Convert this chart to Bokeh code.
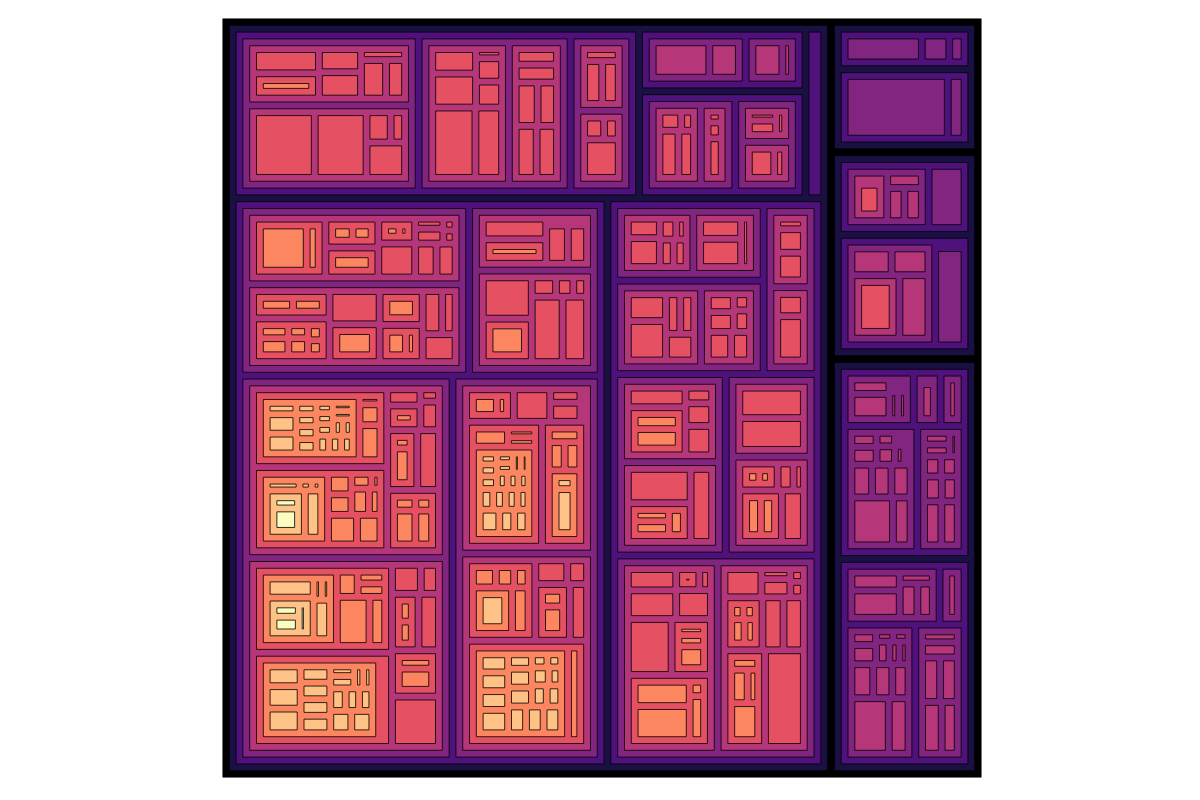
import math
from bokeh.plotting import figure
from bokeh.models import Range1d, ColumnDataSource
from bokeh.palettes import Magma9
from bokeh.embed import file_html
from bokeh.resources import INLINE

# ---- hierarchy: nested lists = groups, numbers = leaf sizes (area units) ----
# a tuple (size, [children]) gives a group an explicit size
A1 = [
    [[1630, [632], 995, 1134, 494, 988, 749], [4138, 3478, 748, 445, 1393]],
    [[1094, 1520, 3103, 245, 623, 692, 1917], [657, 754, 973, 859, 1115, 1080]],
    [[424, 798, 726], [447, 326, 1366]],
]
A2 = [[2206, 1149], [1173, 375]]
A3 = [(7956, [[396, 234, 860, 704], [144, 214, 532]]),
      (5651, [(1774, [229, 376, 200]), (2053, [718, 308])])]
A4 = 3166

BL1 = [
    [[2176, 556], [321, 298], [668], [166, 105], 1281, 288, 428, 148, 164, 741, 660],
    [(2136, [472, 424]), (3411, [384, 265, 504, 348, 230, 230]), 1700, (1935, [929]), (1492, [633]),
     (1634, [501, 254]), 589, 860, 938],
]
BL2 = [
    [1342, [563], 284, 847, 755],
    [2065, [1090], 481, 342, 272, 2070, 1637],
]
BL3 = [
    [
        [[347, 234, 168, 168, 168, 605, 248, 184, 269, 196, 168, 173, 593, 296, 221, 229, 211], 177, 447, 752],
        [[333, 124, 96, [286, 574], 799], 491, 303, 136, 491, 470, 308, 879, 711],
        549, 233, [226], 540, [195, 590], 1320, [304, 238, 744, 583],
    ],
    [
        [[926, 180, 180, [324, 413, 235], 667], 536, 332, 379, 1642, 789],
        [[690, 782, 860, 505, 496, 505, 535, 237, 308, 205, 205, 357, 303, 310, 483, 483], 500],
        852, 536, [280, 293], 1176, [726, 396], 2411,
    ],
]
BL4 = [
    [[468, 198], 1210, 415, 585, 222,
     [648, 243, 262, [195, 212, 225, 158, 168, 160, 160, 179, 179, 152, 288, 267, 252, 231, 473, 360, 343]],
     [452, 459, 440, [222, 817]]],
    [[479, 380, 301, [872], 787], 775, 481, [337, 594], 996,
     [[527, 353, 208, 186, 548, 462, 311, 232, 548, 462, 321, 315, 683, 486, 486, 494], 1160]],
]
BR = [
    [[618, 918, 213, 352, 379, 341], [820, 1148, 429]],
    [[1015, 1493, 562, 550, 748], [460, 261, 512, 347, 660, 537]],
    [[278, 621, 729], [586, 1169]],
    [[1121, [658, 851], 413, 600, 777], [2137, [381, 472, 371], 1562]],
    [[1948, 2038], [[174, 152], 275, 427, [555, 531], 1123]],
    [[1022, [70], 241, 1378, 996, 2433, [235, 286, 557], [1329, 1860, 205, 629]],
     [1036, 288, 523, 172, 206, [183, 183, 320, 270], 1107, 1070, [337, 544, 352, 989], 3727]],
]
# sizes of the second-level groups of the large block
A1_SIZE = 68900
A2_SIZE = 10420
A3_SIZE = 17800
BL_SIZE = 213200
BR_SIZE = 123300
B = [[2080, 740, 410], [6458, 1047]]
C = [[[[658, 117], 530, 575, 575], 2230], [[1075, 985, [1715], 1840], 2850, 190]]
D = [
    [[548, 959, 104, 121, 237, 237], [464, 62], [409],
     [336, 356, 448, 675, 635, 623, 1990, 842, 116, 102, 102, 248, 177],
     [301, 332, 191, 345, 298, 440, 397, 718, 760]],
    [[864, 1320, 362, 606, 526], [512],
     [337, 473, 205, 227, 301, 155, 175, 741, 650, 549, 2070, 1096],
     [388, 803, 539, 828, 782, 1013]],
]
A = [(A1_SIZE, A1), (A2_SIZE, A2), (A3_SIZE, A3), A4,
     (BL_SIZE, [BL1, BL2, BL3, BL4]), (BR_SIZE, BR)]
TREE = [A, B, C, D]

PAD = 6.8
SIZE = 759.0
PHI = (1 + 5 ** 0.5) / 2


class Node:
    def __init__(self, item, depth):
        self.depth = depth
        self.asp = 1.0
        self.rect = None
        self.w = 0.0
        self.fixed = None
        if isinstance(item, tuple):
            self.fixed = float(item[0])
            item = item[1]
        if isinstance(item, list):
            self.kids = [Node(c, depth + 1) for c in item]
            self.val = None
        else:
            self.kids = None
            self.val = float(item)


def weigh(n):
    if n.kids is None:
        n.w = n.val
        return n.w
    s = sum(weigh(c) for c in n.kids)
    if n.fixed is not None:
        n.w = n.fixed
        return n.w
    r = n.asp
    n.w = (math.sqrt(s * r) + 2 * PAD) * (math.sqrt(s / r) + 2 * PAD)
    return n.w


def squarify(nodes, x0, y0, x1, y1):
    out = []
    value = sum(n.w for n in nodes)
    i0 = i1 = 0
    n = len(nodes)
    while i0 < n:
        dx = max(x1 - x0, 1e-6)
        dy = max(y1 - y0, 1e-6)
        sumv = nodes[i1].w
        i1 += 1
        minv = maxv = sumv
        alpha = max(dy / dx, dx / dy) / (value * PHI)
        beta = sumv * sumv * alpha
        min_ratio = max(maxv / beta, beta / minv)
        while i1 < n:
            nv = nodes[i1].w
            sumv += nv
            minv = min(minv, nv)
            maxv = max(maxv, nv)
            beta = sumv * sumv * alpha
            new_ratio = max(maxv / beta, beta / minv)
            if new_ratio > min_ratio:
                sumv -= nv
                break
            min_ratio = new_ratio
            i1 += 1
        row = nodes[i0:i1]
        if dx < dy:
            ny = y0 + dy * sumv / value
            x = x0
            for nd in row:
                w = dx * nd.w / sumv
                out.append((nd, (x, y0, x + w, ny)))
                x += w
            y0 = ny
        else:
            nx = x0 + dx * sumv / value
            y = y0
            for nd in row:
                h = dy * nd.w / sumv
                out.append((nd, (x0, y, nx, y + h)))
                y += h
            x0 = nx
        value -= sumv
        i0 = i1
    return out


def place(n, x0, y0, x1, y1):
    n.rect = (x0, y0, x1, y1)
    if not n.kids:
        return
    h = PAD / 2
    kids = sorted(n.kids, key=lambda c: -c.w)
    for c, (a0, b0, a1, b1) in squarify(kids, x0 + h, y0 + h, x1 - h, y1 - h):
        c.asp = max(a1 - a0 - 2 * PAD, 1.0) / max(b1 - b0 - 2 * PAD, 1.0)
        place(c, a0 + h, b0 + h, a1 - h, b1 - h)


root = Node(TREE, 0)
for _ in range(12):
    weigh(root)
    place(root, 0.0, 0.0, SIZE, SIZE)

L, R, Bt, T, COL = [], [], [], [], []


def collect(n):
    x0, y0, x1, y1 = n.rect
    if x1 - x0 > 0.2 and y1 - y0 > 0.2:
        L.append(x0); R.append(x1); Bt.append(y0); T.append(y1)
        COL.append(Magma9[min(n.depth, 8)])
    if n.kids:
        for c in n.kids:
            collect(c)


collect(root)

src = ColumnDataSource(dict(left=L, right=R, bottom=Bt, top=T, color=COL))

p = figure(width=1200, height=800, output_backend="svg", toolbar_location=None,
           x_range=Range1d(0, SIZE), y_range=Range1d(0, SIZE),
           min_border_left=222, min_border_right=219, min_border_top=18, min_border_bottom=23)
p.quad(left="left", right="right", bottom="bottom", top="top", fill_color="color",
       line_color="black", line_alpha=0.8, line_width=1, source=src)
p.axis.visible = False
p.grid.visible = False
p.outline_line_color = None
p.background_fill_color = "white"
p.border_fill_color = "white"

open("out.html", "w").write(file_html(p, INLINE))
